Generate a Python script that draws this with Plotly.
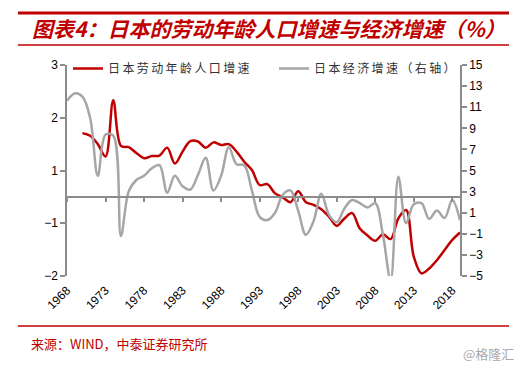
import plotly.graph_objects as go

# ---------------- data ----------------
years = list(range(1968, 2020))

labor_growth = [None, None, 1.45, 1.39, 1.20, 0.92, 2.20, 1.16, 1.13, 1.00,
                0.88, 0.93, 0.94, 1.12, 0.76, 1.03, 1.27, 1.26, 1.12, 1.24,
                1.18, 1.20, 1.03, 0.80, 0.61, 0.27, 0.29, 0.08, -0.01, -0.12,
                0.13, -0.12, -0.18, -0.28, -0.45, -0.66, -0.49, -0.37, -0.72, -0.88,
                -1.00, -0.85, -0.96, -0.49, -0.30, -1.36, -1.74, -1.63, -1.44, -1.21,
                -0.98, -0.81]

gdp_growth = [11.6, 12.3, 12.0, 10.0, 4.5, 8.4, 8.3, -1.2, 3.0, 4.1,
              4.5, 5.2, 5.5, 2.9, 4.5, 3.5, 3.2, 4.6, 6.2, 3.1,
              4.5, 7.2, 5.6, 5.5, 3.1, 0.6, 0.3, 1.0, 2.7, 3.1,
              1.2, -1.1, 0.2, 2.8, 0.8, 0.1, 1.4, 2.2, 1.9, 1.5,
              1.9, -1.1, -5.4, 4.4, 0.0, 1.8, 1.9, 0.4, 1.2, 0.5,
              2.2, 0.3]

left_tickvals = [3, 1.8, 0.6, -0.6, -1.8]
left_ticktext = ["3", "2", "1", "\u22121", "\u22122"]

series_names = ["日本劳动年龄人口增速", "日本经济增速（右轴）"]
title_text = "图表4：日本的劳动年龄人口增速与经济增速（%）"
source_text = "来源：WIND，中泰证券研究所"
watermark_text = "@格隆汇"

# ---------------- style ----------------
RED = "#C00000"
GRAY = "#A6A6A6"
AXIS = "#8C8C8C"
TICKFONT = dict(family="Liberation Sans, Arial, sans-serif", size=12, color="#000000")
CJK = "Noto Sans CJK SC, sans-serif"


def spaced(s):
    return "\u2009".join(s)


fig = go.Figure()
fig.add_trace(go.Scatter(
    x=years, y=labor_growth, name=spaced(series_names[0]), mode="lines",
    line=dict(color=RED, width=2.5, shape="spline", smoothing=1),
    xaxis="x", yaxis="y", connectgaps=False, legend="legend"))
fig.add_trace(go.Scatter(
    x=years, y=gdp_growth, name=spaced(series_names[1]), mode="lines",
    line=dict(color=GRAY, width=2.5, shape="spline", smoothing=1),
    xaxis="x2", yaxis="y2", legend="legend2"))

W, H = 529, 365
L, R, T, B = 67, 69, 65, 89
pw, ph = W - L - R, H - T - B


def px(xp):
    return (xp - L) / pw


def py(yp):
    return (H - B - yp) / ph


legend_common = dict(orientation="h", yanchor="top", xanchor="left",
                     font=dict(family=CJK, size=12, color="#333333"),
                     bgcolor="rgba(0,0,0,0)", itemwidth=30)

fig.update_layout(
    width=W, height=H,
    margin=dict(l=L, r=R, t=T, b=B, pad=0),
    paper_bgcolor="white", plot_bgcolor="white",
    showlegend=True,
    legend=dict(x=px(68), y=py(54), **legend_common),
    legend2=dict(x=px(274), y=py(54), **legend_common),
    xaxis=dict(range=[1968, 2019], tickmode="linear", tick0=1968, dtick=5,
               tickangle=-45, showline=False, ticks="", showgrid=False,
               zeroline=False, tickfont=TICKFONT, ticklabelstandoff=4),
    xaxis2=dict(range=[1968, 2019], overlaying="x", anchor="free", position=1.8 / 4.8,
                showline=True, linecolor=AXIS, linewidth=1.5,
                ticks="outside", ticklen=4, tickcolor=AXIS, tickwidth=1.5,
                tickmode="linear", tick0=1968, dtick=5,
                showticklabels=False, showgrid=False, zeroline=False),
    yaxis=dict(range=[-1.8, 3], tickmode="array", tickvals=left_tickvals,
               ticktext=left_ticktext, showline=True, linecolor=AXIS, linewidth=1.5,
               ticks="outside", ticklen=5, tickcolor=AXIS, tickwidth=1.5,
               showgrid=False, zeroline=False, tickfont=TICKFONT),
    yaxis2=dict(range=[-5, 15], tickmode="linear", tick0=-5, dtick=2,
                overlaying="y", side="right", anchor="x",
                showline=True, linecolor=AXIS, linewidth=1.5,
                ticks="outside", ticklen=5, tickcolor=AXIS, tickwidth=1.5,
                showgrid=False, zeroline=False, tickfont=TICKFONT),
)

# decorative frame lines
for yp, wdt in [(13, 3), (45, 1.5), (326, 1.5)]:
    fig.add_shape(type="line", xref="paper", yref="paper",
                  x0=px(18), x1=px(509), y0=py(yp), y1=py(yp),
                  line=dict(color=RED, width=wdt))

fig.add_annotation(text=title_text, xref="paper", yref="paper",
                   x=px(30), y=py(28), xanchor="left", yanchor="middle",
                   showarrow=False,
                   font=dict(family=CJK, size=21, color=RED, weight="bold", style="italic"))
fig.add_annotation(text=source_text, xref="paper", yref="paper",
                   x=px(29), y=py(343), xanchor="left", yanchor="middle",
                   showarrow=False, font=dict(family=CJK, size=13, color=RED))
fig.add_annotation(text=watermark_text, xref="paper", yref="paper",
                   x=px(516), y=py(353), xanchor="right", yanchor="middle",
                   showarrow=False, font=dict(family=CJK, size=13, color="#AAAAAA"))

fig.write_html("out.html", config={"displayModeBar": False},
               post_script="document.body.style.margin='0';")
